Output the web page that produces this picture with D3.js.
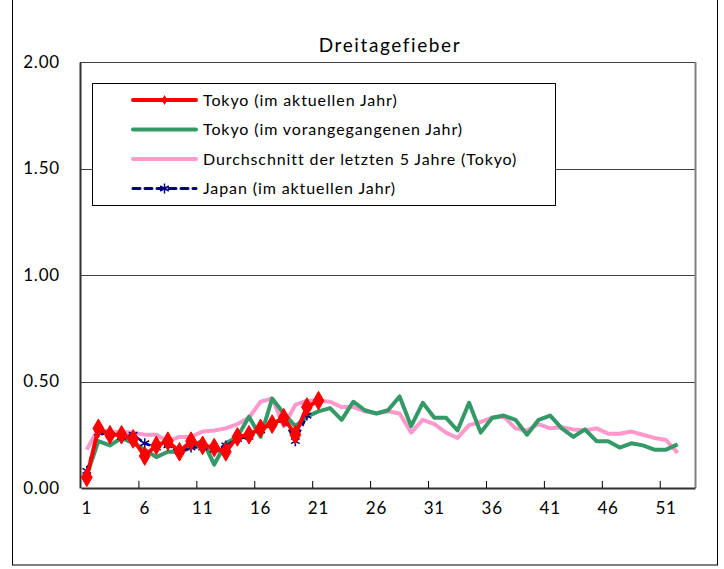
<!DOCTYPE html>
<html lang="de">
<head>
<meta charset="UTF-8">
<title>Dreitagefieber</title>
<script src="https://d3js.org/d3.v7.min.js"></script>
<style>
  body { margin: 0; background: #fff; }
  text { font-family: "Lato", "DejaVu Sans", sans-serif; fill: #000; }
</style>
</head>
<body>
<script>
// Kalenderwochen 1..53
const weeks = d3.range(1, 54);
const tickWeeks = [1, 6, 11, 16, 21, 26, 31, 36, 41, 46, 51];
const yTicks = [0, 0.5, 1.0, 1.5, 2.0];

const tokyoCurrent = [0.05, 0.28, 0.25, 0.25, 0.23, 0.15, 0.20, 0.22, 0.17, 0.22,
  0.20, 0.19, 0.17, 0.24, 0.25, 0.28, 0.30, 0.33, 0.25, 0.38, 0.41];

const tokyoPrevious = [0.06, 0.22, 0.20, 0.235, 0.21, 0.18, 0.145, 0.17, 0.17, 0.19,
  0.225, 0.11, 0.21, 0.24, 0.335, 0.24, 0.42, 0.35, 0.29, 0.335,
  0.36, 0.375, 0.32, 0.405, 0.365, 0.35, 0.365, 0.43, 0.29, 0.40,
  0.33, 0.33, 0.27, 0.40, 0.26, 0.33, 0.34, 0.32, 0.25, 0.32,
  0.34, 0.28, 0.24, 0.275, 0.22, 0.22, 0.19, 0.21, 0.20, 0.18,
  0.18, 0.205];

const avg5y = [0.18, 0.28, 0.26, 0.265, 0.26, 0.25, 0.25, 0.22, 0.24, 0.24,
  0.265, 0.27, 0.28, 0.30, 0.33, 0.405, 0.42, 0.29, 0.39, 0.41,
  0.41, 0.405, 0.38, 0.38, 0.36, 0.35, 0.36, 0.35, 0.26, 0.32,
  0.30, 0.26, 0.235, 0.295, 0.31, 0.33, 0.335, 0.28, 0.27, 0.30,
  0.28, 0.285, 0.275, 0.27, 0.28, 0.255, 0.255, 0.265, 0.25, 0.235,
  0.225, 0.165];

const japanCurrent = [0.08, 0.26, 0.25, 0.24, 0.25, 0.21, 0.19, 0.20, 0.17, 0.19,
  0.19, 0.18, 0.20, 0.23, 0.24, 0.27, 0.30, 0.32, 0.22, 0.34];

const legendLabels = [
  "Tokyo (im aktuellen Jahr)",
  "Tokyo (im vorangegangenen Jahr)",
  "Durchschnitt der letzten 5 Jahre (Tokyo)",
  "Japan (im aktuellen Jahr)"
];

const width = 724, height = 569;
const plot = { left: 80, right: 695, top: 62, bottom: 488 };

const svg = d3.select("body").append("svg")
  .attr("width", width)
  .attr("height", height);

// Rahmen (oben ausserhalb des Bildes)
svg.append("rect")
  .attr("x", 12.5).attr("y", -2)
  .attr("width", 705).attr("height", 567)
  .attr("fill", "none").attr("stroke", "#000").attr("stroke-width", 1);

const x = d3.scaleBand().domain(weeks).range([plot.left + 1, plot.right]).paddingInner(0).paddingOuter(0);
const cx = w => x(w) + x.bandwidth() / 2;
const y = d3.scaleLinear().domain([0, 2]).range([plot.bottom, plot.top]);

// Gitterlinien
svg.append("g").selectAll("line")
  .data(yTicks.filter(d => d > 0))
  .join("line")
  .attr("x1", plot.left).attr("x2", plot.right)
  .attr("y1", d => Math.round(y(d)) + 0.5).attr("y2", d => Math.round(y(d)) + 0.5)
  .attr("stroke", "#404040").attr("stroke-width", 1);

// rechter Rand
svg.append("line")
  .attr("x1", plot.right + 0.5).attr("x2", plot.right + 0.5)
  .attr("y1", plot.top).attr("y2", plot.bottom)
  .attr("stroke", "#808080").attr("stroke-width", 2);

// y-Achse
const yAxis = svg.append("g")
  .attr("transform", `translate(${plot.left},0)`)
  .call(d3.axisLeft(y).tickValues(yTicks).tickFormat(d3.format(".2f")).tickSize(0).tickPadding(20));
yAxis.select(".domain").attr("stroke", "#303030").attr("stroke-width", 2);
yAxis.selectAll("text").style("font-size", "17px").style("letter-spacing", "0.8px");

// x-Achse
const xAxis = svg.append("g")
  .attr("transform", `translate(0,${plot.bottom})`)
  .call(d3.axisBottom(x).tickValues(tickWeeks).tickSize(0).tickPadding(14));
xAxis.select(".domain").attr("stroke", "#303030").attr("stroke-width", 2);
xAxis.selectAll("text").style("font-size", "17px").style("letter-spacing", "0.8px");

// Teilstriche zwischen den Kategorien (alle 5 Wochen)
svg.append("g").selectAll("line")
  .data(d3.range(5, 51, 5))
  .join("line")
  .attr("x1", d => x(d) + x.bandwidth()).attr("x2", d => x(d) + x.bandwidth())
  .attr("y1", plot.bottom).attr("y2", plot.bottom - 7)
  .attr("stroke", "#000").attr("stroke-width", 1);

// Titel
svg.append("text")
  .attr("x", 390).attr("y", 52)
  .attr("text-anchor", "middle")
  .style("font-size", "19px")
  .style("letter-spacing", "1.6px")
  .text("Dreitagefieber");

const line = d3.line().x((d, i) => cx(weeks[i])).y(d => y(d));

svg.append("path").datum(avg5y)
  .attr("d", line).attr("fill", "none")
  .attr("stroke", "#ff99cc").attr("stroke-width", 4).attr("stroke-linejoin", "round");

svg.append("path").datum(tokyoPrevious)
  .attr("d", line).attr("fill", "none")
  .attr("stroke", "#339966").attr("stroke-width", 4).attr("stroke-linejoin", "round");

svg.append("path").datum(japanCurrent)
  .attr("d", line).attr("fill", "none")
  .attr("stroke", "#000080").attr("stroke-width", 2.5).attr("stroke-dasharray", "6,4");

const starSym = d3.symbol().type({
  draw(ctx, size) {
    const r = Math.sqrt(size) / 2;
    for (let k = 0; k < 3; k++) {
      const a = Math.PI / 6 + k * Math.PI / 3;
      ctx.moveTo(-r * Math.cos(a), -r * Math.sin(a));
      ctx.lineTo(r * Math.cos(a), r * Math.sin(a));
    }
    ctx.moveTo(0, -r); ctx.lineTo(0, r);
  }
}).size(100);

svg.append("g").selectAll("path")
  .data(japanCurrent)
  .join("path")
  .attr("transform", (d, i) => `translate(${cx(weeks[i])},${y(d)})`)
  .attr("d", starSym)
  .attr("fill", "none").attr("stroke", "#000080").attr("stroke-width", 1.5);

svg.append("path").datum(tokyoCurrent)
  .attr("d", line).attr("fill", "none")
  .attr("stroke", "#ff0000").attr("stroke-width", 4).attr("stroke-linejoin", "round");

const diamond = d3.symbol().type(d3.symbolDiamond).size(100);
svg.append("g").selectAll("path")
  .data(tokyoCurrent)
  .join("path")
  .attr("transform", (d, i) => `translate(${cx(weeks[i])},${y(d)})`)
  .attr("d", diamond)
  .attr("fill", "#ff0000").attr("stroke", "#ff0000");

// Legende
const legend = svg.append("g");
legend.append("rect")
  .attr("x", 92.5).attr("y", 83.5)
  .attr("width", 463).attr("height", 122)
  .attr("fill", "#fff").attr("stroke", "#000");

const legendStyles = [
  { color: "#ff0000", width: 4, dash: null, marker: "diamond" },
  { color: "#339966", width: 4, dash: null, marker: null },
  { color: "#ff99cc", width: 4, dash: null, marker: null },
  { color: "#000080", width: 3, dash: "7,5", marker: "star" }
];

legendLabels.forEach((label, i) => {
  const ly = 100 + i * 29.5;
  const s = legendStyles[i];
  legend.append("line")
    .attr("x1", 133).attr("x2", 196)
    .attr("y1", ly).attr("y2", ly)
    .attr("stroke", s.color).attr("stroke-width", s.width)
    .attr("stroke-linecap", "round")
    .attr("stroke-dasharray", s.dash);
  if (s.marker === "diamond") {
    legend.append("path").attr("transform", `translate(164.5,${ly})`)
      .attr("d", d3.symbol().type(d3.symbolDiamond).size(30)).attr("fill", s.color);
  } else if (s.marker === "star") {
    legend.append("path").attr("transform", `translate(164.5,${ly})`)
      .attr("d", starSym).attr("fill", "none").attr("stroke", s.color).attr("stroke-width", 1.5);
  }
  legend.append("text")
    .attr("x", 203).attr("y", ly + 5.5)
    .style("font-size", "16px")
    .style("letter-spacing", "0.9px")
    .text(label);
});
</script>
</body>
</html>
